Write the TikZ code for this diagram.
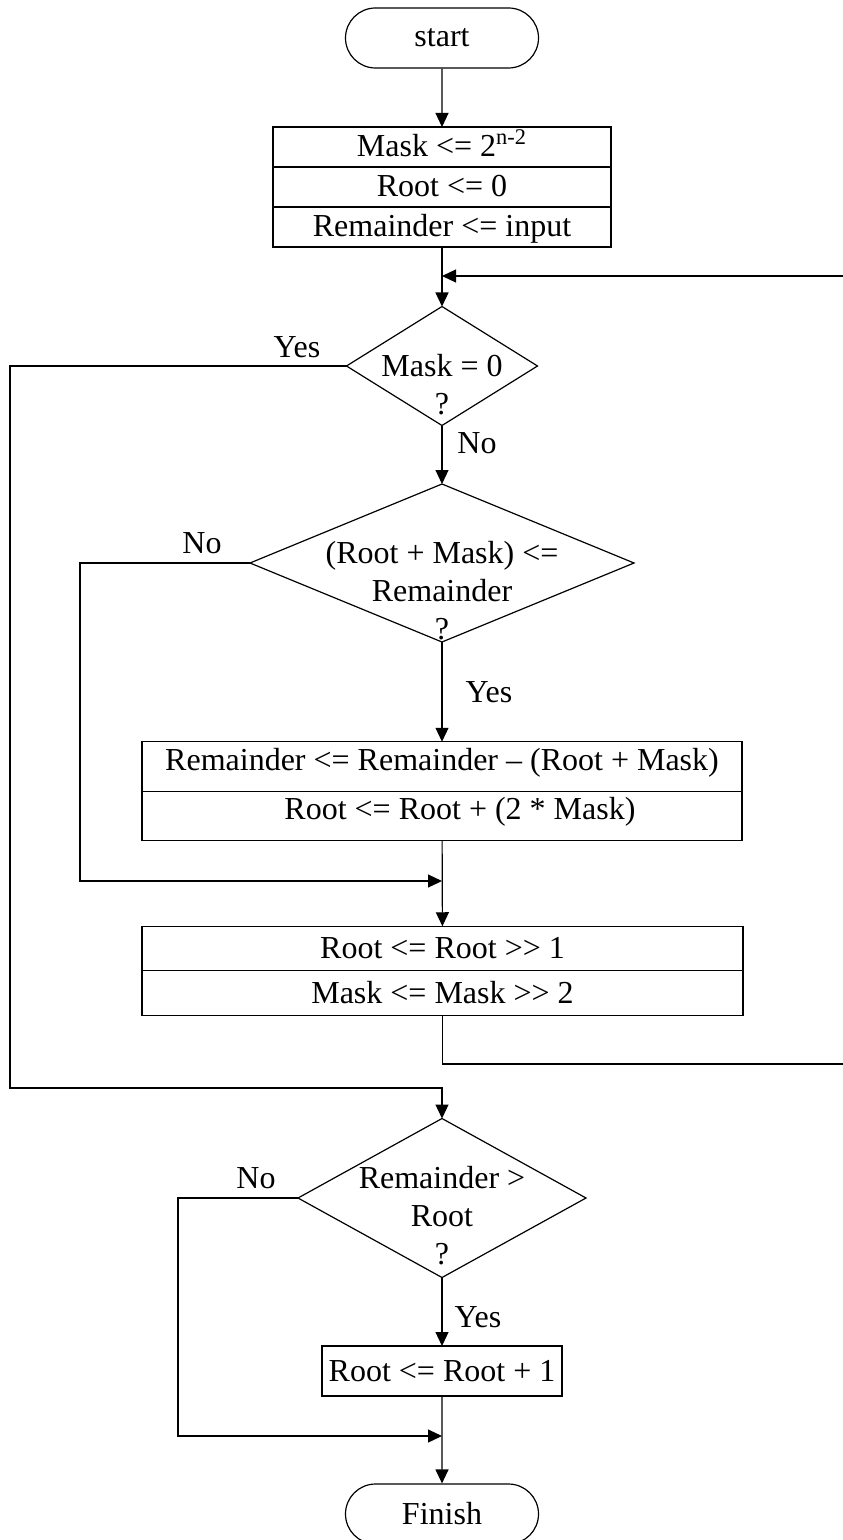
\documentclass[tikz,border=0pt]{standalone}
\usepackage{fontspec}
\setmainfont{Liberation Serif}[Ligatures=TeXOff]
\usetikzlibrary{positioning,shapes.geometric,shapes.misc,arrows.meta}
\newcommand{\chartFont}{\fontsize{16}{19}\selectfont}
\tikzstyle{flowChart} = [x=0.5pt, y=-0.5pt, line width=0.6pt, font=\chartFont, >={Triangle[length=7pt, width=6.5pt]}]
\tikzstyle{terminalStyle} = [draw, rounded rectangle, minimum width=96.5pt, minimum height=30pt, inner sep=0pt]
\tikzstyle{rowStyle} = [draw, rectangle, inner sep=0pt, outer sep=0pt, text height=10.5pt, text depth=0.5pt]
\tikzstyle{initRow} = [rowStyle, minimum width=169pt, minimum height=20pt]
\tikzstyle{updateRow} = [rowStyle, text depth=7pt, minimum width=300pt, minimum height=24.75pt]
\tikzstyle{shiftRow} = [rowStyle, minimum width=300.5pt, minimum height=22.25pt]
\tikzstyle{decisionStyle} = [draw, diamond, inner sep=0pt, outer sep=0pt]
\tikzstyle{answerText} = [inner sep=0pt]
\newcommand{\questionText}[2]{\smash{\makebox[0pt]{\raisebox{#1}{\begin{tabular}{@{}c@{}}#2\end{tabular}}}}}
\begin{document}
\begin{tikzpicture}[flowChart]
  \useasboundingbox (0,0) rectangle (842,1540);
  \node[terminalStyle] (start) at (442,38) {start};
  \node[initRow] (maskInit) at (442,147) {Mask <= 2\textsuperscript{n-2}};
  \node[initRow, below=0pt of maskInit] (rootInit) {Root <= 0};
  \node[initRow, below=0pt of rootInit] (remInit) {Remainder <= input};
  \node[decisionStyle, minimum width=95.5pt, minimum height=59.5pt] (maskZero) at (442,366) {\questionText{-15.3pt}{Mask = 0\\?}};
  \node[decisionStyle, minimum width=192pt, minimum height=79pt] (cmpMask) at (442,563) {\questionText{-20pt}{(Root + Mask) <=\\Remainder\\?}};
  \node[updateRow] (subRem) at (442,766.5) {Remainder <= Remainder – (Root + Mask)};
  \node[updateRow, below=0pt of subRem] (rootAdd) {\hspace*{18pt}Root <= Root + (2 * Mask)};
  \node[shiftRow] (shiftRoot) at (442.5,948.5) {Root <= Root >> 1};
  \node[shiftRow, below=0pt of shiftRoot] (shiftMask) {Mask <= Mask >> 2};
  \node[decisionStyle, minimum width=144pt, minimum height=79.5pt] (cmpRoot) at (442,1198) {\questionText{-14.75pt}{Remainder >\\Root\\?}};
  \node[rowStyle, minimum width=120pt, minimum height=25pt] (incRoot) at (442,1371) {Root <= Root + 1};
  \node[terminalStyle] (finish) at (442,1514) {Finish};

  \node[answerText] (yesMaskZero) at (297,347) {Yes};
  \node[answerText] (noMaskZero) at (477,443) {No};
  \node[answerText] (noCmpMask) at (202,543) {No};
  \node[answerText] (yesCmpMask) at (489,692) {Yes};
  \node[answerText] (noCmpRoot) at (256,1178) {No};
  \node[answerText] (yesCmpRoot) at (478,1317) {Yes};

  \coordinate (loopJoin) at (442,276);
  \coordinate (loopTop) at (852,276);
  \coordinate (loopBottom) at (852,1064);
  \coordinate (yesCorner) at (10,1088);
  \coordinate (skipSub) at (80,881);
  \coordinate (skipInc) at (178,1436);

  \draw[->] (start) -- (maskInit);
  \draw[->] (remInit) -- (maskZero);
  \draw[->] (shiftMask.south) |- (loopBottom) -- (loopTop) -- (loopJoin);
  \draw[->] (maskZero.west) -| (yesCorner) -| (cmpRoot.north);
  \draw[->] (maskZero) -- (cmpMask);
  \draw[->] (cmpMask.west) -| (skipSub) -- (skipSub -| rootAdd.south);
  \draw[->] (cmpMask) -- (subRem);
  \draw[->] (rootAdd) -- (shiftRoot);
  \draw[->] (cmpRoot) -- (incRoot);
  \draw[->] (cmpRoot.west) -| (skipInc) -- (skipInc -| incRoot.south);
  \draw[->] (incRoot) -- (finish);
\end{tikzpicture}
\end{document}
